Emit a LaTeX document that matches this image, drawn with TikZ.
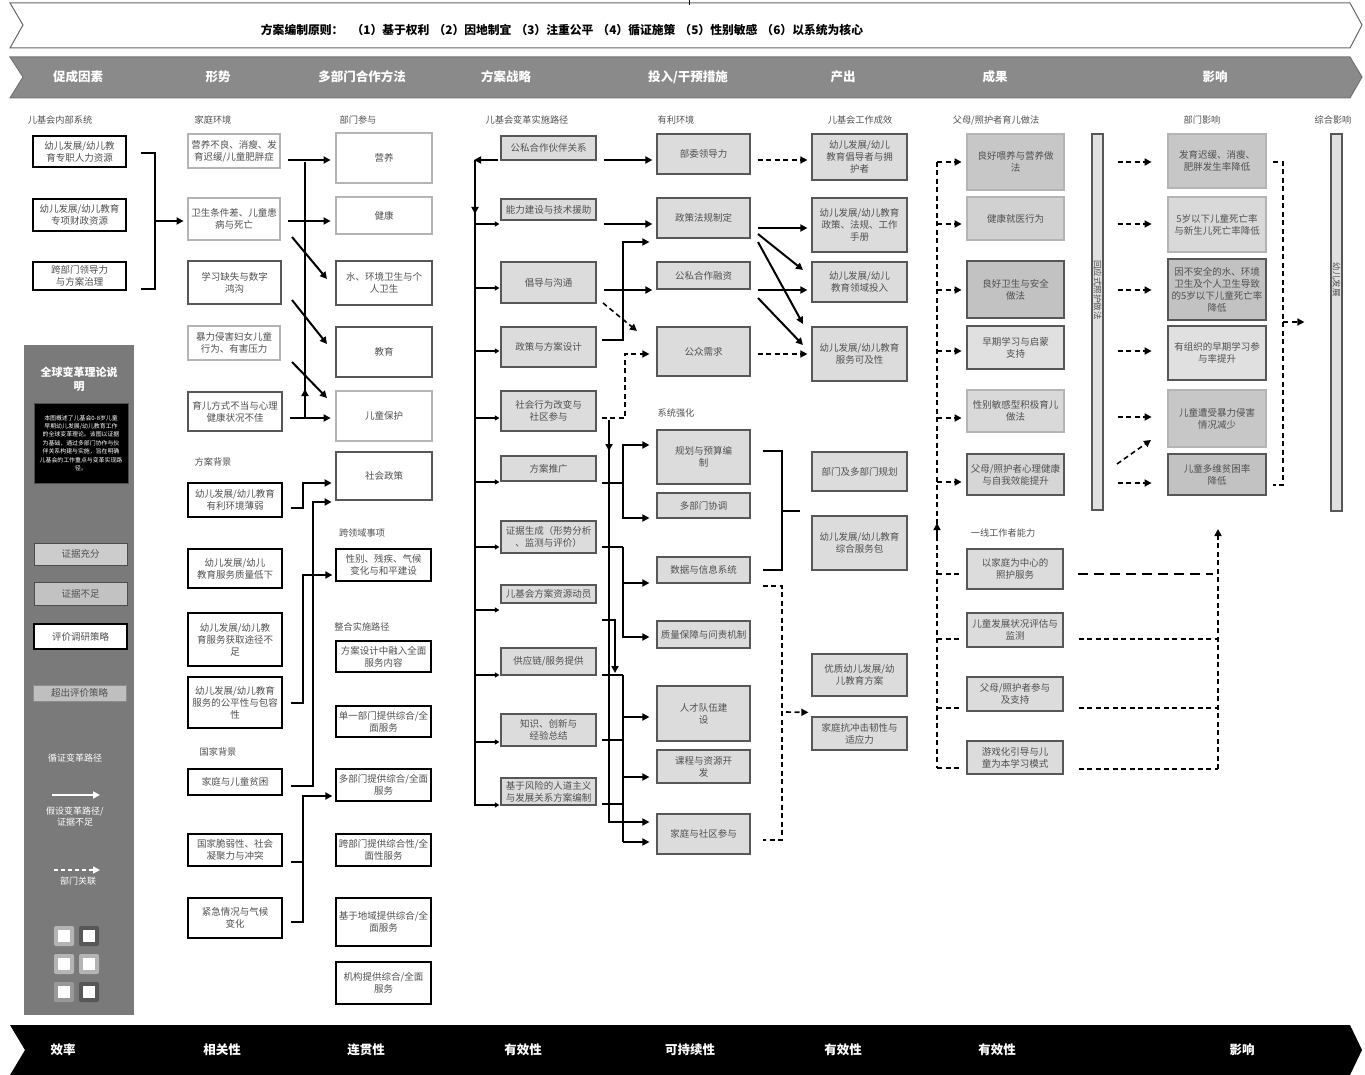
\documentclass[tikz,border=0pt]{standalone}
\usepackage{fontspec}
\setmainfont{Noto Sans CJK SC}
\usetikzlibrary{arrows.meta,calc}
\definecolor{lgc}{HTML}{B4B4B4}
\definecolor{dgc}{HTML}{575757}
\definecolor{fillc}{HTML}{DCDCDC}
\definecolor{bannc}{HTML}{8A8A8A}
\definecolor{txt}{HTML}{505050}
\definecolor{panelc}{HTML}{7A7A7A}
\newcommand\bx[7]{%
 \pgfmathsetmacro\bxcx{(#2+#4)/2}%
 \pgfmathsetmacro\bxcy{(#3+#5)/2}%
 \pgfmathsetmacro\bxw{#4-#2}%
 \pgfmathsetmacro\bxh{#5-#3}%
 \node[bxbase,#6,minimum width=\bxw pt,minimum height=\bxh pt] (#1) at (\bxcx,\bxcy) {#7};}
\tikzset{
 bxbase/.style={draw, align=center, inner sep=1pt, font=\fontsize{9.5}{12}\selectfont, text=txt},
 lb/.style={draw=lgc, line width=2.8pt, fill=white},
 db/.style={draw=dgc, line width=2.8pt, fill=white},
 wb/.style={draw=black, line width=1.3pt, fill=white},
 gb/.style={draw=dgc, line width=1.2pt, fill=fillc},
 arrx/.style={line width=2pt, -{Triangle[length=7pt,width=7pt]}},
 arrs/.style={line width=2pt, -{Triangle[length=4.5pt,width=5pt]}},
 arr/.style={arrx, shorten <=7pt, shorten >=4pt},
 darrx/.style={line width=1.6pt, dash pattern=on 5pt off 3.5pt, -{Triangle[length=7pt,width=7pt]}},
 darr/.style={darrx, shorten <=7pt, shorten >=4pt},
 ln/.style={line width=2pt},
 dln/.style={line width=1.6pt, dash pattern=on 5pt off 3.5pt},
 lbl/.style={font=\fontsize{9.2}{10}\selectfont, text=txt, inner sep=0pt},
 hdr/.style={font=\bfseries\fontsize{12.5}{14}\selectfont, text=white, inner sep=0pt},
 wtx/.style={font=\fontsize{9}{11}\selectfont, text=white, inner sep=0pt, align=center},
}
\begin{document}
\begin{tikzpicture}[x=1pt,y=-1pt]
\useasboundingbox (0,0) rectangle (1365,1075);
% ---------- banners
\draw[draw=black!60, line width=1pt, fill=white] (10,3) -- (1350,3) -- (1362,25) -- (1350,48) -- (10,48) -- (23,25) -- cycle;
\draw[line width=0.8pt] (689,0) -- (689,5);
\node[font=\bfseries\fontsize{11.8}{13}\selectfont, inner sep=0pt] (princ) at (562,30) {方案编制原则：\hspace{8pt}（1）基于权利\hspace{4pt}（2）因地制宜\hspace{4pt}（3）注重公平\hspace{4pt}（4）循证施策\hspace{4pt}（5）性别敏感\hspace{4pt}（6）以系统为核心};
\draw[draw=black!55, line width=1pt, fill=bannc] (10,57) -- (1350,57) -- (1362,77) -- (1350,98) -- (10,98) -- (23,77) -- cycle;
\node[hdr] (h1) at (78,77) {促成因素};
\node[hdr] (h2) at (218,77) {形势};
\node[hdr] (h3) at (362,77) {多部门合作方法};
\node[hdr] (h4) at (506,77) {方案战略};
\node[hdr] (h5) at (688,77) {投入/干预措施};
\node[hdr] (h6) at (843,77) {产出};
\node[hdr] (h7) at (995,77) {成果};
\node[hdr] (h8) at (1215,77) {影响};
\fill[black] (10,1025) -- (1350,1025) -- (1362,1050) -- (1350,1075) -- (10,1075) -- (25,1050) -- cycle;
\node[hdr] (f1) at (63,1050) {效率};
\node[hdr] (f2) at (222,1050) {相关性};
\node[hdr] (f3) at (366,1050) {连贯性};
\node[hdr] (f4) at (523,1050) {有效性};
\node[hdr] (f5) at (690,1050) {可持续性};
\node[hdr] (f6) at (843,1050) {有效性};
\node[hdr] (f7) at (997,1050) {有效性};
\node[hdr] (f8) at (1242,1050) {影响};
% ---------- section labels
\node[lbl] (t1) at (60,120) {儿基会内部系统};
\node[lbl] (t2) at (213,120) {家庭环境};
\node[lbl] (t3) at (213,462) {方案背景};
\node[lbl] (t4) at (218,752) {国家背景};
\node[lbl] (t5) at (358,120) {部门参与};
\node[lbl] (t6) at (362,533) {跨领域事项};
\node[lbl] (t7) at (362,627) {整合实施路径};
\node[lbl] (t8) at (527,120) {儿基会变革实施路径};
\node[lbl] (t9) at (676,120) {有利环境};
\node[lbl] (t10) at (676,413) {系统强化};
\node[lbl] (t11) at (860,120) {儿基会工作成效};
\node[lbl] (t12) at (996,120) {父母/照护者育儿做法};
\node[lbl] (t13) at (1003,533) {一线工作者能力};
\node[lbl] (t14) at (1202,120) {部门影响};
\node[lbl] (t15) at (1333,120) {综合影响};
% ---------- column 1
\bx{A1}{33}{136}{126}{167}{wb}{幼儿发展/幼儿教\\育专职人力资源}
\bx{A2}{33}{199}{126}{231}{wb}{幼儿发展/幼儿教育\\专项财政资源}
\bx{A3}{33}{262}{126}{290}{wb}{跨部门领导力\\与方案治理}
% ---------- column 2
\bx{B1}{188}{134}{280}{168}{lb}{营养不良、消瘦、发\\育迟缓/儿童肥胖症}
\bx{B2}{188}{198}{280}{240}{lb}{卫生条件差、儿童患\\病与死亡}
\bx{B3}{188}{261}{281}{304}{db}{学习缺失与数字\\鸿沟}
\bx{B4}{188}{326}{280}{360}{lb}{暴力侵害妇女儿童\\行为、有害压力}
\bx{B5}{188}{392}{282}{431}{db}{育儿方式不当与心理\\健康状况不佳}
\bx{C1}{188}{483}{282}{517}{wb}{幼儿发展/幼儿教育\\有利环境薄弱}
\bx{C2}{188}{549}{282}{588}{wb}{幼儿发展/幼儿\\教育服务质量低下}
\bx{C3}{188}{613}{282}{666}{wb}{幼儿发展/幼儿教\\育服务获取途径不\\足}
\bx{C4}{188}{677}{282}{728}{wb}{幼儿发展/幼儿教育\\服务的公平性与包容\\性}
\bx{D1}{188}{769}{282}{795}{wb}{家庭与儿童贫困}
\bx{D2}{188}{834}{282}{866}{wb}{国家脆弱性、社会\\凝聚力与冲突}
\bx{D3}{188}{898}{282}{938}{wb}{紧急情况与气候\\变化}
% ---------- column 3
\bx{E1}{336}{133}{432}{183}{lb}{营养}
\bx{E2}{336}{197}{432}{234}{lb}{健康}
\bx{E3}{336}{261}{432}{305}{db}{水、环境卫生与个\\人卫生}
\bx{E4}{336}{327}{432}{377}{db}{教育}
\bx{E5}{336}{391}{432}{441}{lb}{儿童保护}
\bx{E6}{336}{452}{432}{500}{db}{社会政策}
\bx{F1}{336}{549}{431}{581}{wb}{性别、残疾、气候\\变化与和平建设}
\bx{G1}{336}{641}{431}{672}{wb}{方案设计中融入全面\\服务内容}
\bx{G2}{336}{706}{431}{737}{wb}{单一部门提供综合/全\\面服务}
\bx{G3}{336}{769}{431}{801}{wb}{多部门提供综合/全面\\服务}
\bx{G4}{336}{834}{431}{866}{wb}{跨部门提供综合性/全\\面性服务}
\bx{G5}{336}{898}{431}{946}{wb}{基于地域提供综合/全\\面服务}
\bx{G6}{336}{962}{431}{1004}{wb}{机构提供综合/全面\\服务}
% ---------- column 4
\bx{H1}{501}{136}{596}{160}{gb}{公私合作伙伴关系}
\bx{H2}{501}{199}{596}{220}{gb}{能力建设与技术援助}
\bx{H3}{501}{262}{596}{303}{gb}{倡导与沟通}
\bx{H4}{501}{327}{596}{367}{gb}{政策与方案设计}
\bx{H5}{501}{391}{596}{431}{gb}{社会行为改变与\\社区参与}
\bx{H6}{501}{456}{596}{481}{gb}{方案推广}
\bx{H7}{501}{521}{596}{553}{gb}{证据生成（形势分析\\、监测与评价）}
\bx{H8}{501}{585}{596}{603}{gb}{儿基会方案资源动员}
\bx{H9}{501}{648}{596}{675}{gb}{供应链/服务提供}
\bx{H10}{501}{714}{596}{746}{gb}{知识、创新与\\经验总结}
\bx{H11}{501}{778}{596}{805}{gb}{基于风险的人道主义\\与发展关系方案编制}
% ---------- column 5
\bx{I1}{657}{134}{750}{174}{gb}{部委领导力}
\bx{I2}{657}{198}{750}{238}{gb}{政策法规制定}
\bx{I3}{657}{262}{750}{289}{gb}{公私合作融资}
\bx{I4}{657}{327}{750}{376}{gb}{公众需求}
\bx{J1}{657}{430}{750}{484}{gb}{规划与预算编\\制}
\bx{J2}{657}{493}{750}{518}{gb}{多部门协调}
\bx{J3}{657}{557}{750}{583}{gb}{数据与信息系统}
\bx{J4}{657}{621}{750}{648}{gb}{质量保障与问责机制}
\bx{J5}{657}{686}{750}{741}{gb}{人才队伍建\\设}
\bx{J6}{657}{750}{750}{783}{gb}{课程与资源开\\发}
\bx{J7}{657}{814}{750}{854}{gb}{家庭与社区参与}
% ---------- column 6
\bx{K1}{812}{134}{907}{180}{gb}{幼儿发展/幼儿\\教育倡导者与拥\\护者}
\bx{K2}{812}{198}{907}{252}{gb}{幼儿发展/幼儿教育\\政策、法规、工作\\手册}
\bx{K3}{812}{262}{907}{302}{gb}{幼儿发展/幼儿\\教育领域投入}
\bx{K4}{812}{327}{907}{381}{gb}{幼儿发展/幼儿教育\\服务可及性}
\bx{K5}{812}{452}{907}{491}{gb}{部门及多部门规划}
\bx{K6}{812}{516}{907}{570}{gb}{幼儿发展/幼儿教育\\综合服务包}
\bx{K7}{812}{654}{907}{696}{gb}{优质幼儿发展/幼\\儿教育方案}
\bx{K8}{812}{717}{907}{750}{gb}{家庭抗冲击韧性与\\适应力}
% ---------- column 7
\bx{L1}{967}{134}{1064}{190}{lb,fill=black!22}{良好喂养与营养做\\法}
\bx{L2}{967}{197}{1064}{240}{lb,fill=black!18}{健康就医行为}
\bx{L3}{967}{261}{1064}{318}{db,fill=black!24}{良好卫生与安全\\做法}
\bx{L4}{967}{326}{1064}{369}{db,fill=black!12}{早期学习与启蒙\\支持}
\bx{L5}{967}{390}{1064}{432}{lb,fill=black!15}{性别敏感型积极育儿\\做法}
\bx{L6}{967}{454}{1064}{495}{db,fill=black!16}{父母/照护者心理健康\\与自我效能提升}
\bx{M1}{967}{549}{1063}{589}{gb}{以家庭为中心的\\照护服务}
\bx{M2}{967}{613}{1063}{647}{gb}{儿童发展状况评估与\\监测}
\bx{M3}{967}{677}{1063}{711}{gb}{父母/照护者参与\\及支持}
\bx{M4}{967}{741}{1063}{774}{gb}{游戏化引导与儿\\童为本学习模式}
\bx{Lbar}{1092}{134}{1103}{510}{gb,fill=black!12}{}
\node[lbl, rotate=-90, font=\fontsize{8.5}{9}\selectfont] (Lbt) at (1097.5,290) {回应式照护做法};
% ---------- column 8
\bx{N1}{1168}{134}{1266}{188}{lb,fill=black!22}{发育迟缓、消瘦、\\肥胖发生率降低}
\bx{N2}{1168}{197}{1266}{252}{lb,fill=black!15}{5岁以下儿童死亡率\\与新生儿死亡率降低}
\bx{N3}{1168}{259}{1266}{320}{db,fill=black!24}{因不安全的水、环境\\卫生及个人卫生导致\\的5岁以下儿童死亡率\\降低}
\bx{N4}{1168}{326}{1266}{380}{db,fill=black!12}{有组织的早期学习参\\与率提升}
\bx{N5}{1168}{390}{1266}{447}{lb,fill=black!22}{儿童遭受暴力侵害\\情况减少}
\bx{N6}{1168}{454}{1266}{495}{db,fill=black!24}{儿童多维贫困率\\降低}
\bx{Rbar}{1331}{134}{1342}{511}{gb,fill=black!12}{}
\node[lbl, rotate=-90, font=\fontsize{8.5}{9}\selectfont] (Rbt) at (1336.5,280) {幼儿发展};
% ---------- legend panel
\bx{panel}{24}{345}{134}{1015}{draw=none,fill=panelc}{}
\node[font=\bfseries\fontsize{11}{14}\selectfont, text=white, align=center, inner sep=0pt] (ptitle) at (79,379) {全球变革理论说\\明};
\bx{pbox}{34}{403}{128}{483}{draw=black!70,line width=1pt,fill=black,text=white,font=\fontsize{5.9}{8.4}\selectfont}{本图概述了儿基会0-8岁儿童\\早期幼儿发展/幼儿教育工作\\的全球变革理论。该图以证据\\为基础，通过多部门协作与伙\\伴关系构建与实施，旨在明确\\儿基会的工作重点与变革实现路\\径。}
\bx{lg1}{34}{543}{127}{565}{draw=black!70,line width=1pt,fill=black!20}{证据充分}
\bx{lg2}{34}{582}{127}{605}{draw=black!70,line width=1pt,fill=black!24}{证据不足}
\bx{lg3}{34}{624}{127}{649}{draw=black,line width=1.5pt,fill=white}{评价调研策略}
\bx{lg4}{33}{685}{126}{701}{draw=black!45,line width=1pt,fill=black!25}{超出评价策略}
\node[wtx] (lt1) at (75,758) {循证变革路径};
\coordinate (la1) at (52,795);
\coordinate (la2) at (100,795);
\draw[line width=2.2pt, white, -{Triangle[length=7pt,width=7pt]}] (la1) -- (la2);
\node[wtx] (lt2) at (75,817) {假设变革路径/\\证据不足};
\coordinate (lb1) at (54,870);
\coordinate (lb2) at (100,870);
\draw[line width=1.5pt, white, dash pattern=on 4pt off 3pt, -{Triangle[length=7pt,width=7pt]}] (lb1) -- (lb2);
\node[wtx] (lt3) at (78,881) {部门关联};
\foreach \nm/\cx/\cy/\cc in {sq1/64/936/lgc, sq2/89/936/dgc, sq3/64/964/lgc, sq4/89/964/lgc, sq5/64/992/black!40, sq6/89/992/dgc}{
  \node[fill=\cc, rounded corners=2pt, minimum size=20pt, inner sep=0pt] (\nm) at (\cx,\cy) {};
  \node[fill=white, minimum size=12pt, inner sep=0pt] at (\nm) {};
}
% ================= connectors
% column 1 bracket
\draw[ln] ($(A1.east |- 0,153)+(14,0)$) -- (155,153) -- (155,289) -- ($(A3.east |- 0,289)+(14,0)$);
\coordinate (brk1) at (155,221);
\draw[arrx] (brk1) -- ($(B2.west |- brk1)+(-3,0)$);
% column 2 -> 3
\draw[arr] (B1.east |- 0,160) -- (E1.west |- 0,160);
\draw[arr] (B2.east |- 0,221) -- (E2.west |- 0,221);
\draw[arr] (B5.east |- 0,418) -- (E5.west |- 0,418);
\draw[arrx] (292,237) -- (327,279);
\draw[arrx] (292,300) -- (327,344);
\draw[arrx] (292,362) -- (327,398);
\draw[ln] (305,418) -- (305,162);
\draw[arrx] (305,404) -- (305,389);
\draw[arrx] ($(C1.east |- 0,508)+(8,0)$) -- (303,508) -- (303,483) -- ($(E6.west |- 0,483)+(-3,0)$);
\draw[arrx] ($(D1.east |- 0,786)+(8,0)$) -- (313,786) -- (313,502) -- ($(E6.west |- 0,502)+(-3,0)$);
\draw[arrx] ($(C4.east |- 0,703)+(8,0)$) -- (303,703) -- (303,575) -- ($(F1.west |- 0,575)+(-3,0)$);
\draw[ln] ($(D2.east |- 0,862)+(8,0)$) -- (303,862);
\draw[arrx] ($(D3.east |- 0,922)+(8,0)$) -- (303,922) -- (303,796) -- ($(G3.west |- 0,796)+(-3,0)$);
% column 4 trunk
\draw[arrx] ($(H1.west |- 0,160)+(-2,0)$) -- (474,160);
\draw[ln] (475,160) -- (475,806);
\draw[arrx] (475,198) -- (475,214);
\foreach \yy/\hh in {224/H2, 288/H3, 351/H4, 418/H5, 482/H6, 547/H7, 610/H8, 675/H9, 742/H10, 805/H11}{
  \draw[arrs] (474,\yy) -- ($(\hh.west |- 0,\yy)+(-1,0)$);
}
% column 4 -> 5
\draw[arr] (H1.east |- 0,160) -- (I1.west |- 0,160);
\draw[arr] (H2.east |- 0,224) -- (I2.west |- 0,224);
\draw[arr] (H3.east |- 0,290) -- (I3.west |- 0,290);
\draw[arrx] ($(H4.east |- 0,340)+(5,0)$) -- (623,340) -- (623,242) -- ($(I2.west |- 0,242)+(-7,0)$);
\draw[darrx] (603,303) -- (637,331);
\draw[darrx] ($(H5.east |- 0,418)+(5,0)$) -- (625,418) -- (625,354) -- ($(I4.west |- 0,354)+(-7,0)$);
\draw[arrx] (609,420) -- (609,822) -- ($(J7.west |- 0,822)+(-7,0)$);
\draw[arrx] (609,436) -- (609,451);
\draw[ln] ($(H6.east |- 0,483)+(5,0)$) -- (623,483);
\draw[arrx] (623,483) -- (623,445) -- ($(J1.west |- 0,445)+(-7,0)$);
\draw[arrx] (623,483) -- (623,518) -- ($(J2.west |- 0,518)+(-7,0)$);
\draw[ln] ($(H7.east |- 0,547)+(5,0)$) -- (623,547);
\draw[arrx] (623,547) -- (623,583) -- ($(J3.west |- 0,583)+(-7,0)$);
\draw[arrx] (623,583) -- (623,637) -- ($(J4.west |- 0,637)+(-7,0)$);
\draw[arrx] ($(H8.east |- 0,620)+(5,0)$) -- (615,620) -- (615,673);
\draw[ln] ($(H9.east |- 0,675)+(5,0)$) -- (623,675);
\draw[arrx] (623,675) -- (623,717) -- ($(J5.west |- 0,717)+(-7,0)$);
\draw[ln] ($(H10.east |- 0,740)+(5,0)$) -- (623,740);
\draw[ln] (623,717) -- (623,842);
\draw[arrx] (623,777) -- ($(J6.west |- 0,777)+(-7,0)$);
\draw[arrx] (623,842) -- ($(J7.west |- 0,842)+(-7,0)$);
\draw[ln] ($(H11.east |- 0,804)+(5,0)$) -- (623,804);
% column 5 -> 6
\draw[darr] (I1.east |- 0,160) -- (K1.west |- 0,160);
\draw[arr] (I2.east |- 0,228) -- (K2.west |- 0,228);
\draw[arrx] (758,234) -- (803,270);
\draw[arrx] (758,242) -- (803,324);
\draw[arr] (I3.east |- 0,290) -- (K3.west |- 0,290);
\draw[arrx] (758,298) -- (803,345);
\draw[darr] (I4.east |- 0,354) -- (K4.west |- 0,354);
\draw[ln] ($(J1.east |- 0,451)+(12,0)$) -- (782,451) -- (782,570) -- ($(J3.east |- 0,570)+(12,0)$);
\draw[ln] (782,511) -- (800,511);
\draw[dln] ($(J3.east |- 0,586)+(12,0)$) -- (782,586) -- (782,840) -- ($(J7.east |- 0,840)+(12,0)$);
\draw[darrx] (786,712) -- ($(K8.north west)+(-3,-4)$);
% column 6 -> 7
\draw[dln] (937,162) -- (937,768);
\foreach \yy/\ll in {162/L1, 224/L2, 290/L3, 351/L4, 418/L5, 482/L6}{
  \draw[darrx] (937,\yy) -- ($(\ll.west |- 0,\yy)+(-4,0)$);
}
\draw[arrx, line width=1.4pt] (937,541) -- (937,523);
\foreach \yy/\mm in {574/M1, 639/M2, 708/M3, 768/M4}{
  \draw[dln] (937,\yy) -- ($(\mm.west |- 0,\yy)+(-4,0)$);
}
% column 7 -> 8
\foreach \yy/\nn in {162/N1, 224/N2, 290/N3, 351/N4, 417/N5, 483/N6}{
  \draw[darrx] ($(Lbar.east |- 0,\yy)+(14,0)$) -- ($(\nn.west |- 0,\yy)+(-15,0)$);
}
\draw[darrx] (1117,464) -- (1151,440);
\draw[dln] ($(N1.east |- 0,162)+(6,0)$) -- (1283,162) -- (1283,485) -- ($(N6.east |- 0,485)+(6,0)$);
\draw[darrx] (1283,322) -- ($(Rbar.west |- 0,322)+(-26,0)$);
\draw[line width=2.4pt, dash pattern=on 10pt off 6pt] ($(M1.east |- 0,574)+(14,0)$) -- (1213,574);
\draw[dln] ($(M2.east |- 0,639)+(15,0)$) -- (1218,639);
\draw[dln] ($(M3.east |- 0,708)+(15,0)$) -- (1218,708);
\draw[dln] ($(M4.east |- 0,769)+(15,0)$) -- (1218,769);
\draw[darrx] (1218,769) -- (1218,529);
\end{tikzpicture}
\end{document}
